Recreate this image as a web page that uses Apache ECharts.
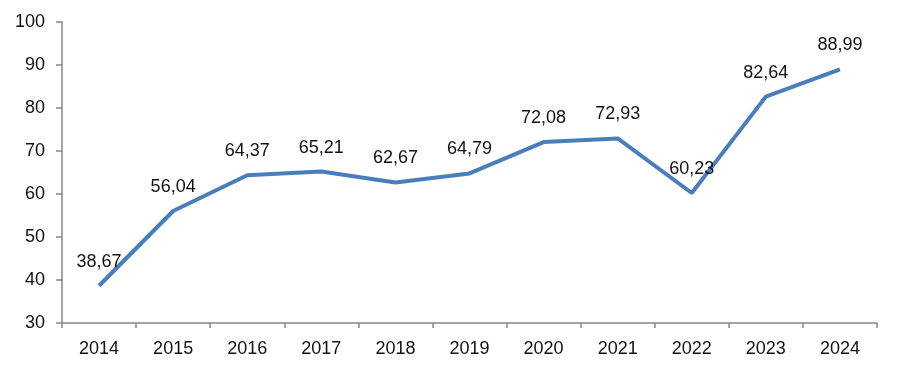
<!DOCTYPE html>
<html><head><meta charset="utf-8">
<script src="https://cdn.jsdelivr.net/npm/echarts@6/dist/echarts.min.js"></script>
<style>html,body{margin:0;padding:0;background:#fff}#c{width:899px;height:373px}</style>
</head><body><div id="c"></div>
<script>
const categories = ['2014','2015','2016','2017','2018','2019','2020','2021','2022','2023','2024'];
const values = [38.67,56.04,64.37,65.21,62.67,64.79,72.08,72.93,60.23,82.64,88.99];
const yMin = 30, yMax = 100, yStep = 10;
const chart = echarts.init(document.getElementById('c'));
const font = 'Liberation Sans';
chart.setOption({
  animation:false,
  grid:{left:62,right:22,top:22,bottom:50,containLabel:false},
  xAxis:{type:'category',data:categories,boundaryGap:true,
    axisLine:{lineStyle:{color:'#868686',width:1.5}},
    axisTick:{show:true,length:5,lineStyle:{color:'#868686',width:1.5}},
    axisLabel:{color:'#111',fontFamily:font,fontSize:18,margin:17}},
  yAxis:{type:'value',min:yMin,max:yMax,interval:yStep,
    splitLine:{show:false},
    axisLine:{show:true,lineStyle:{color:'#868686',width:1.5}},
    axisTick:{show:true,length:6,lineStyle:{color:'#868686',width:1.5}},
    axisLabel:{color:'#111',fontFamily:font,fontSize:18,margin:17}},
  series:[{type:'line',data:values,symbol:'circle',symbolSize:2,showSymbol:true,
    itemStyle:{color:'rgba(74,126,187,0)',borderWidth:0},
    lineStyle:{color:'#4a7ebb',width:4},
    labelLayout:{hideOverlap:false},
    label:{show:true,position:'top',distance:14,color:'#111',fontFamily:font,fontSize:18,
      formatter:p=>p.value.toFixed(2).replace('.',',')}}]
});
</script></body></html>
